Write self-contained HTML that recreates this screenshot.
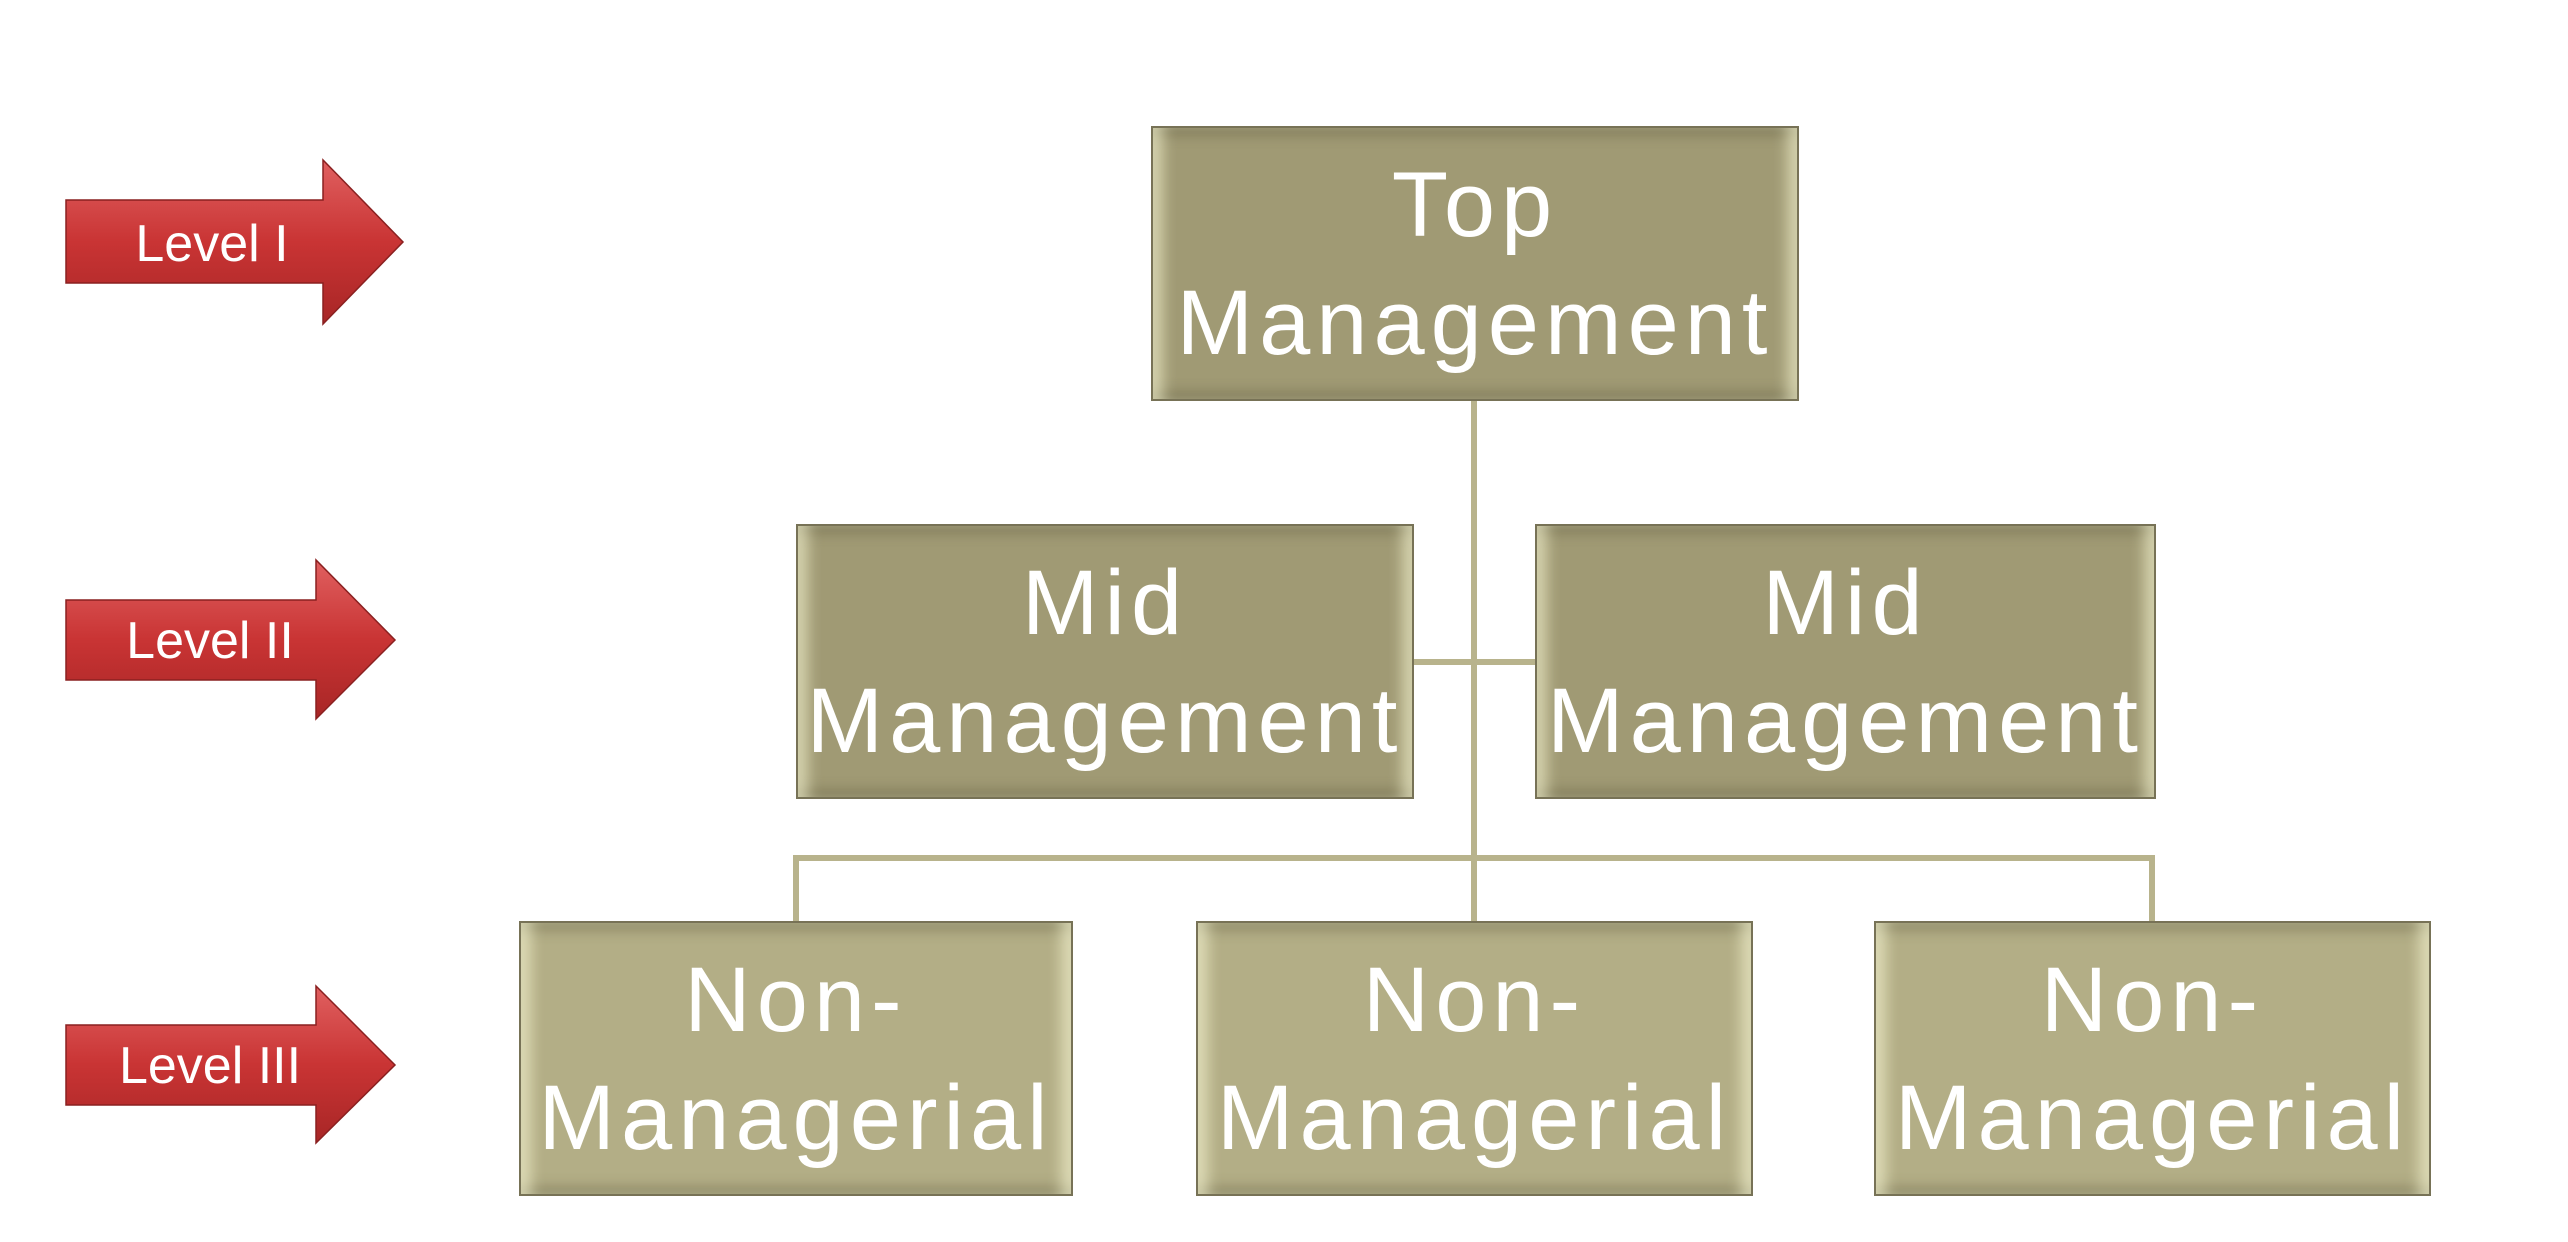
<!DOCTYPE html>
<html><head><meta charset="utf-8"><style>
html,body{margin:0;padding:0;background:#fff;}
body{width:2568px;height:1242px;position:relative;overflow:hidden;font-family:"Liberation Sans",sans-serif;}
.b{position:absolute;box-sizing:border-box;border:2px solid #777256;color:#fff;text-align:center;display:flex;flex-direction:column;justify-content:center;font-size:92px;line-height:118px;letter-spacing:6px;white-space:nowrap;
box-shadow:inset 18px 0 14px -8px rgba(255,255,220,.55),inset -18px 0 14px -8px rgba(255,255,220,.55),inset 0 18px 12px -10px rgba(90,85,60,.35),inset 0 -18px 12px -10px rgba(90,85,60,.35);}
.d{background:#a09a74;}
.l{background:#b3ae86;}
.ln{position:absolute;background:#b8b38c;}
</style></head><body>
<svg width="2568" height="1242" style="position:absolute;left:0;top:0">
<defs><linearGradient id="r" x1="0" y1="0" x2="0" y2="1"><stop offset="0" stop-color="#e06060"/><stop offset=".5" stop-color="#c93434"/><stop offset="1" stop-color="#a82626"/></linearGradient></defs>
<polygon points="66,200 323,200 323,160 403,242 323,324 323,283 66,283" fill="url(#r)" stroke="#8a2020" stroke-width="1.5"/>
<polygon points="66,600 316,600 316,560 395,640 316,719 316,680 66,680" fill="url(#r)" stroke="#8a2020" stroke-width="1.5"/>
<polygon points="66,1025 316,1025 316,986 395,1065 316,1143 316,1105 66,1105" fill="url(#r)" stroke="#8a2020" stroke-width="1.5"/>
<text x="212" y="261" font-family="Liberation Sans,sans-serif" font-size="52" fill="#fff" text-anchor="middle">Level I</text>
<text x="210" y="658" font-family="Liberation Sans,sans-serif" font-size="52" fill="#fff" text-anchor="middle">Level II</text>
<text x="210" y="1083" font-family="Liberation Sans,sans-serif" font-size="52" fill="#fff" text-anchor="middle">Level III</text>
</svg>
<div class="ln" style="left:1471px;top:401px;width:6px;height:522px"></div>
<div class="ln" style="left:1414px;top:659px;width:121px;height:6px"></div>
<div class="ln" style="left:793px;top:855px;width:1362px;height:6px"></div>
<div class="ln" style="left:793px;top:855px;width:6px;height:68px"></div>
<div class="ln" style="left:2149px;top:855px;width:6px;height:68px"></div>
<div class="b d" style="left:1151px;top:126px;width:648px;height:275px"><div>Top</div><div>Management</div></div>
<div class="b d" style="left:796px;top:524px;width:618px;height:275px"><div>Mid</div><div>Management</div></div>
<div class="b d" style="left:1535px;top:524px;width:621px;height:275px"><div>Mid</div><div>Management</div></div>
<div class="b l" style="left:519px;top:921px;width:554px;height:275px"><div>Non-</div><div>Managerial</div></div>
<div class="b l" style="left:1196px;top:921px;width:557px;height:275px"><div>Non-</div><div>Managerial</div></div>
<div class="b l" style="left:1874px;top:921px;width:557px;height:275px"><div>Non-</div><div>Managerial</div></div>
</body></html>
